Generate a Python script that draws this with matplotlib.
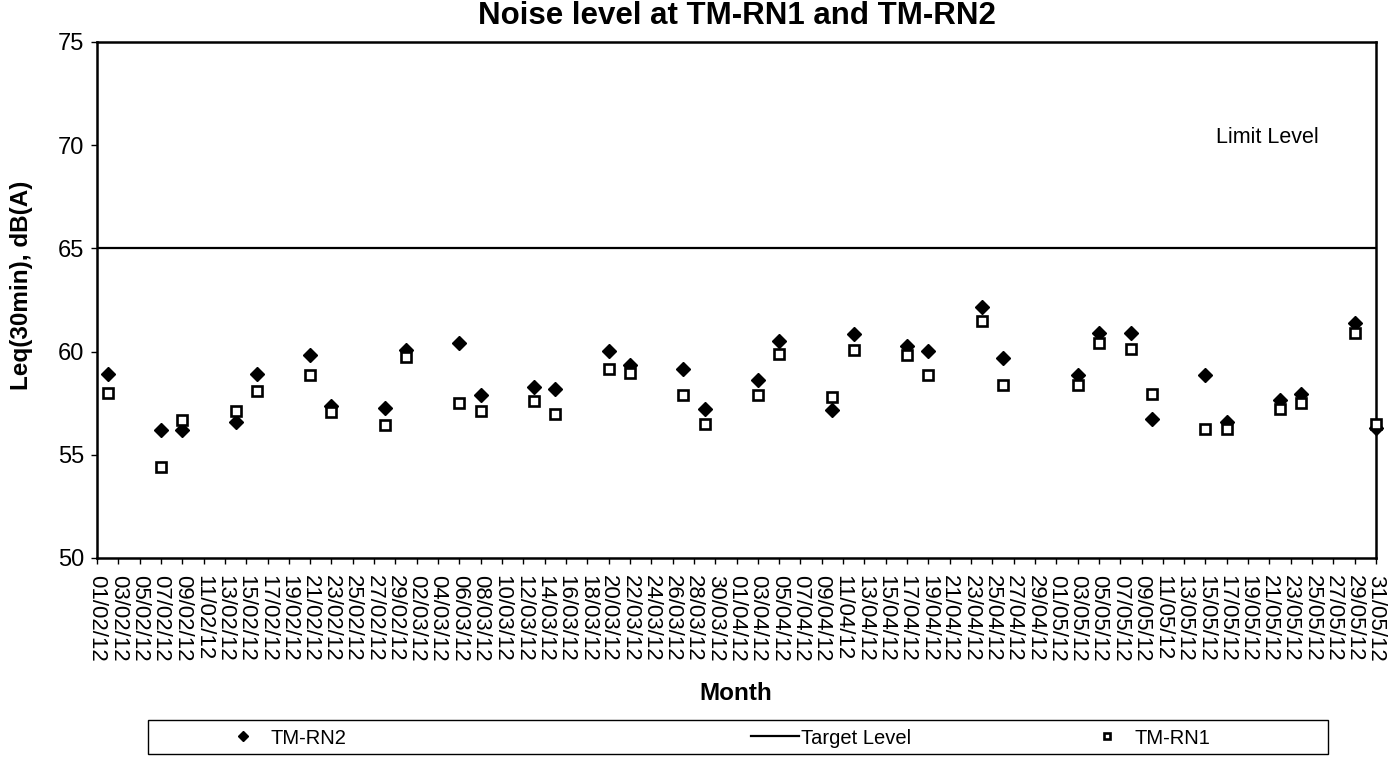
import matplotlib
matplotlib.use("Agg")
import matplotlib.pyplot as plt
import matplotlib.dates as mdates
import pandas as pd
from matplotlib.patches import Rectangle

plt.rcParams['font.family'] = ['Liberation Sans', 'DejaVu Sans']

# sampling dates (dd/mm/yy) and readings, dB(A)
dates = ['02/02/12', '07/02/12', '09/02/12', '14/02/12', '16/02/12', '21/02/12', '23/02/12',
         '28/02/12', '01/03/12', '06/03/12', '08/03/12', '13/03/12', '15/03/12', '20/03/12',
         '22/03/12', '27/03/12', '29/03/12', '03/04/12', '05/04/12', '10/04/12', '12/04/12',
         '17/04/12', '19/04/12', '24/04/12', '26/04/12', '03/05/12', '05/05/12', '08/05/12',
         '10/05/12', '15/05/12', '17/05/12', '22/05/12', '24/05/12', '29/05/12', '31/05/12']
tm_rn2 = [58.9, 56.2, 56.2, 56.6, 58.9, 59.85, 57.35, 57.25, 60.1, 60.4, 57.9, 58.3, 58.2, 60.05,
          59.35, 59.15, 57.2, 58.6, 60.5, 57.15, 60.85, 60.25, 60.05, 62.15, 59.7, 58.85, 60.9,
          60.9, 56.75, 58.85, 56.6, 57.65, 57.95, 61.4, 56.3]
tm_rn1 = [58.0, 54.4, 56.7, 57.1, 58.07, 58.85, 57.07, 56.42, 59.74, 57.5, 57.1, 57.6, 56.97,
          59.15, 58.95, 57.9, 56.5, 57.9, 59.9, 57.8, 60.08, 59.85, 58.85, 61.5, 58.4, 58.4,
          60.4, 60.15, 57.95, 56.25, 56.25, 57.2, 57.5, 60.9, 56.5]
target_level = 65
start_date, end_date = '01/02/12', '31/05/12'

x = pd.to_datetime(dates, format='%d/%m/%y')
x0 = pd.to_datetime(start_date, format='%d/%m/%y')
x1 = pd.to_datetime(end_date, format='%d/%m/%y')

W, H = 1399, 757
fig = plt.figure(figsize=(W / 100, H / 100), dpi=100)
ax = fig.add_axes([97 / W, 1 - 558 / H, (1376 - 97) / W, (558 - 42) / H])

target_line, = ax.plot([x0, x1], [target_level, target_level], color='black', lw=1.6)
rn2, = ax.plot(x, tm_rn2, linestyle='none', marker='D', markersize=6.8,
               color='black', zorder=3, clip_on=False)
rn1, = ax.plot(x, tm_rn1, linestyle='none', marker='s', markersize=6.8,
               markerfacecolor='white', markeredgecolor='black', markeredgewidth=1.9,
               zorder=4, clip_on=False)

ax.set_xlim(x0, x1)
ax.set_ylim(50, 75)
ax.set_yticks(range(50, 76, 5))
ax.set_xticks(pd.date_range(x0, x1, freq='2D'))
ax.xaxis.set_major_formatter(mdates.DateFormatter('%d/%m/%y'))
ax.tick_params(axis='x', labelsize=16, rotation=270, length=4, width=1, pad=8)
ax.tick_params(axis='y', labelsize=17, length=4, width=1, pad=5)
for lab in ax.get_xticklabels():
    lab.set_va('top')
    lab.set_ha('center')
for s in ax.spines.values():
    s.set_linewidth(1.8)

ax.text(pd.to_datetime('16/05/12', format='%d/%m/%y'), 70.35, 'Limit Level',
        fontsize=15.5, va='center', ha='left')

fig.text(737 / W, 1 - 16 / H, 'Noise level at TM-RN1 and TM-RN2', fontsize=22.5,
         fontweight='bold', ha='center', va='center')
fig.text(22 / W, 1 - 285 / H, 'Leq(30min), dB(A)', fontsize=17.5, fontweight='bold',
         rotation=90, ha='center', va='center')
fig.text(736 / W, 1 - 693 / H, 'Month', fontsize=17.5, fontweight='bold',
         ha='center', va='center')

# legend box with hand-placed entries
fig.patches.append(Rectangle((148 / W, 1 - 754 / H), (1328 - 148) / W, 34 / H,
                             transform=fig.transFigure, fill=False, edgecolor='black',
                             linewidth=1))
for handle, label, xpos in [(rn2, 'TM-RN2', 215), (target_line, 'Target Level', 733),
                            (rn1, 'TM-RN1', 1079)]:
    is_line = label == 'Target Level'
    fig.legend([handle], [label], loc='center left', bbox_to_anchor=(xpos / W, 1 - 738 / H),
               frameon=False, fontsize=14.5, handlelength=2.4 if is_line else 1,
               handletextpad=0.1 if is_line else 0.85, markerscale=0.7)

fig.savefig('out.png', dpi=100)
